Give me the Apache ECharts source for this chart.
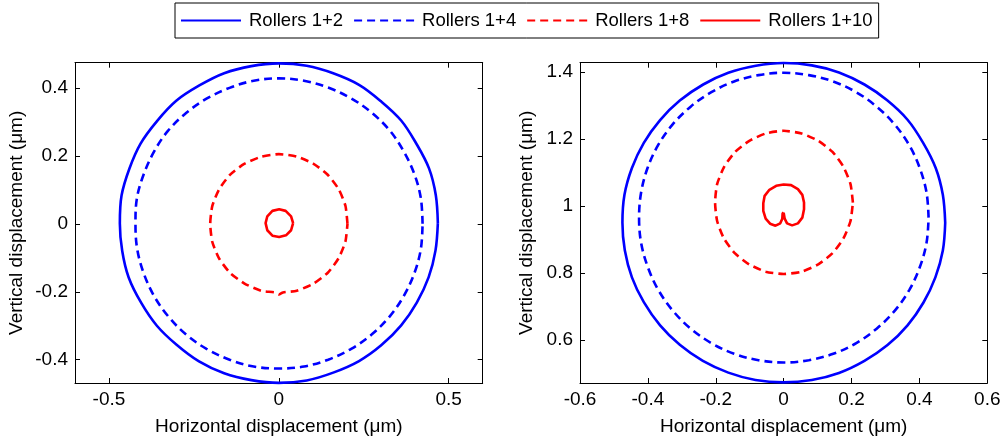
<!DOCTYPE html>
<html>
<head>
<meta charset="utf-8">
<script src="https://cdn.jsdelivr.net/npm/echarts@6/dist/echarts.min.js"></script>
<style>
html,body{margin:0;padding:0;background:#fff;}
#chart{width:1008px;height:441px;}
</style>
</head>
<body>
<div id="chart"></div>
<script>
// ---- Data (x, y in µm) ----
const seriesNames = ['Rollers 1+2', 'Rollers 1+4', 'Rollers 1+8', 'Rollers 1+10'];

// Left panel
const left12 = [[0.468,0.002],[0.462,0.084],[0.442,0.163],[0.404,0.237],[0.360,0.304],[0.300,0.361],[0.236,0.409],[0.160,0.443],[0.082,0.465],[0.000,0.472],[-0.081,0.464],[-0.161,0.443],[-0.234,0.407],[-0.302,0.362],[-0.358,0.303],[-0.407,0.236],[-0.440,0.162],[-0.463,0.083],[-0.468,0.001],[-0.461,-0.080],[-0.442,-0.158],[-0.405,-0.233],[-0.359,-0.300],[-0.301,-0.356],[-0.235,-0.405],[-0.161,-0.440],[-0.081,-0.460],[0.000,-0.468],[0.082,-0.461],[0.160,-0.438],[0.236,-0.404],[0.302,-0.357],[0.360,-0.299],[0.406,-0.232],[0.441,-0.157],[0.461,-0.079],[0.468,0.002]];
const left14 = [[0.423,0.000],[0.418,0.075],[0.399,0.146],[0.367,0.214],[0.326,0.275],[0.273,0.327],[0.213,0.369],[0.145,0.401],[0.074,0.421],[0.000,0.428],[-0.074,0.421],[-0.145,0.400],[-0.213,0.368],[-0.273,0.326],[-0.326,0.274],[-0.367,0.213],[-0.398,0.145],[-0.418,0.074],[-0.422,0.000],[-0.417,-0.074],[-0.398,-0.145],[-0.367,-0.213],[-0.325,-0.273],[-0.273,-0.326],[-0.213,-0.368],[-0.145,-0.400],[-0.074,-0.420],[0.000,-0.426],[0.074,-0.420],[0.145,-0.400],[0.213,-0.368],[0.273,-0.326],[0.326,-0.273],[0.368,-0.212],[0.399,-0.145],[0.418,-0.074],[0.423,0.000]];
const left18 = [[0.202,0.000],[0.196,0.053],[0.176,0.102],[0.143,0.145],[0.101,0.177],[0.052,0.198],[0.000,0.205],[-0.053,0.197],[-0.102,0.176],[-0.144,0.144],[-0.176,0.101],[-0.196,0.052],[-0.202,0.000],[-0.196,-0.053],[-0.176,-0.102],[-0.144,-0.144],[-0.101,-0.176],[-0.052,-0.197],[-0.012,-0.202],[0.000,-0.208],[0.012,-0.202],[0.053,-0.197],[0.102,-0.176],[0.144,-0.144],[0.176,-0.101],[0.196,-0.052],[0.202,0.000]];
const left110 = [[0.042,0.002],[0.036,0.022],[0.020,0.038],[0.001,0.043],[-0.019,0.038],[-0.034,0.022],[-0.039,0.002],[-0.034,-0.019],[-0.019,-0.035],[0.001,-0.039],[0.021,-0.034],[0.036,-0.019],[0.042,0.002]];

// Right panel
const right12 = [[0.476,0.950],[0.469,1.033],[0.448,1.113],[0.411,1.188],[0.365,1.257],[0.305,1.315],[0.238,1.362],[0.163,1.398],[0.083,1.419],[0.000,1.426],[-0.082,1.418],[-0.163,1.397],[-0.237,1.362],[-0.306,1.314],[-0.364,1.256],[-0.412,1.188],[-0.447,1.113],[-0.469,1.033],[-0.475,0.950],[-0.468,0.868],[-0.447,0.787],[-0.412,0.713],[-0.364,0.644],[-0.306,0.586],[-0.238,0.538],[-0.163,0.503],[-0.083,0.481],[0.000,0.474],[0.083,0.481],[0.163,0.502],[0.238,0.538],[0.306,0.585],[0.365,0.644],[0.412,0.712],[0.447,0.787],[0.469,0.867],[0.476,0.950]];
const right14 = [[0.427,0.965],[0.421,1.040],[0.401,1.113],[0.370,1.181],[0.327,1.243],[0.274,1.296],[0.214,1.339],[0.146,1.371],[0.074,1.390],[0.000,1.397],[-0.074,1.390],[-0.146,1.371],[-0.213,1.339],[-0.274,1.296],[-0.327,1.243],[-0.370,1.181],[-0.401,1.113],[-0.420,1.040],[-0.426,0.965],[-0.420,0.890],[-0.400,0.817],[-0.369,0.749],[-0.326,0.687],[-0.274,0.634],[-0.213,0.591],[-0.146,0.559],[-0.074,0.540],[0.000,0.533],[0.074,0.540],[0.146,0.559],[0.214,0.591],[0.274,0.634],[0.327,0.687],[0.370,0.749],[0.401,0.817],[0.421,0.890],[0.427,0.965]];
const right18 = [[0.204,1.010],[0.197,1.065],[0.176,1.117],[0.144,1.161],[0.102,1.194],[0.053,1.216],[0.000,1.224],[-0.053,1.216],[-0.101,1.194],[-0.143,1.161],[-0.175,1.117],[-0.196,1.065],[-0.202,1.010],[-0.196,0.955],[-0.176,0.903],[-0.144,0.859],[-0.102,0.826],[-0.053,0.804],[0.000,0.797],[0.053,0.804],[0.102,0.826],[0.144,0.859],[0.176,0.903],[0.197,0.955],[0.204,1.010]];
const right110 = [[0.000,0.980],[0.003,0.962],[0.010,0.948],[0.025,0.942],[0.042,0.948],[0.055,0.965],[0.060,0.990],[0.060,1.010],[0.055,1.033],[0.042,1.050],[0.022,1.062],[0.000,1.064],[-0.022,1.060],[-0.042,1.048],[-0.056,1.030],[-0.060,1.008],[-0.060,0.985],[-0.053,0.962],[-0.040,0.947],[-0.024,0.941],[-0.010,0.948],[-0.004,0.962],[-0.003,0.978],[0.000,0.980]];

// Axis ranges and tick labels
const leftXRange = [-0.6, 0.6];
const leftYRange = [-0.4685, 0.474];
const leftXTicks = [-0.5, 0, 0.5];
const leftYTicks = [-0.4, -0.2, 0, 0.2, 0.4];
const rightXRange = [-0.6, 0.6];
const rightYRange = [0.472, 1.427];
const rightXTicks = [-0.6, -0.4, -0.2, 0, 0.2, 0.4, 0.6];
const rightYTicks = [0.6, 0.8, 1, 1.2, 1.4];

const xTitle = 'Horizontal displacement (\u03bcm)';
const yTitle = 'Vertical displacement (\u03bcm)';

// ---- Chart ----
const FONT = 'Liberation Sans, Arial, sans-serif';
const BLUE = '#0000ff', RED = '#ff0000';
const DASH = [8, 5];
const FS = 19;

function mkAxis(kind, pos, range, ticks, gridIndex, showLabels, name, nameGap) {
  const a = {
    type: 'value', gridIndex: gridIndex, position: pos,
    min: range[0], max: range[1],
    axisLine: { show: true, onZero: false, lineStyle: { color: '#000', width: 1 } },
    axisTick: { show: true, inside: true, length: 5, customValues: ticks, lineStyle: { color: '#000', width: 1 } },
    axisLabel: { show: showLabels, customValues: ticks, color: '#000', fontFamily: FONT, fontSize: FS, margin: kind === 'x' ? 7 : 7 },
    splitLine: { show: false }
  };
  if (name) {
    a.name = name;
    a.nameLocation = 'middle';
    a.nameGap = nameGap;
    a.nameTextStyle = { color: '#000', fontFamily: FONT, fontSize: FS };
  }
  return a;
}

const chart = echarts.init(document.getElementById('chart'), null, { renderer: 'canvas' });

function mkSeries(name, data, color, dashed, xi, yi, smooth) {
  return {
    name: name, type: 'line', data: data,
    xAxisIndex: xi, yAxisIndex: yi,
    showSymbol: false, symbol: 'none', smooth: smooth, clip: false,
    animation: false,
    lineStyle: { color: color, width: 2.6, type: dashed ? DASH : 'solid' },
    itemStyle: { color: color },
    emphasis: { disabled: true }
  };
}

const option = {
  backgroundColor: '#fff',
  animation: false,
  legend: {
    data: seriesNames,
    left: 175, top: 3,
    padding: [8, 6, 8, 5],
    itemWidth: 60, itemHeight: 14, itemGap: 10,
    borderColor: '#000', borderWidth: 1,
    itemStyle: { opacity: 0, borderWidth: 0 },
    textStyle: { color: '#000', fontFamily: FONT, fontSize: 18.5, padding: [0, 0, 0, 3] },
    selectedMode: false
  },
  grid: [
    { left: 75, top: 62.7, width: 407.7, height: 320.6, containLabel: false },
    { left: 580, top: 62.7, width: 407.3, height: 321.3, containLabel: false }
  ],
  xAxis: [
    mkAxis('x', 'bottom', leftXRange, leftXTicks, 0, true, xTitle, 34),
    mkAxis('x', 'top', leftXRange, leftXTicks, 0, false),
    mkAxis('x', 'bottom', rightXRange, rightXTicks, 1, true, xTitle, 34),
    mkAxis('x', 'top', rightXRange, rightXTicks, 1, false)
  ],
  yAxis: [
    mkAxis('y', 'left', leftYRange, leftYTicks, 0, true, yTitle, 49),
    mkAxis('y', 'right', leftYRange, leftYTicks, 0, false),
    mkAxis('y', 'left', rightYRange, rightYTicks, 1, true, yTitle, 44),
    mkAxis('y', 'right', rightYRange, rightYTicks, 1, false)
  ],
  series: [
    mkSeries(seriesNames[0], left12, BLUE, false, 0, 0, 0.35),
    mkSeries(seriesNames[1], left14, BLUE, true, 0, 0, 0.35),
    mkSeries(seriesNames[2], left18, RED, true, 0, 0, 0.2),
    mkSeries(seriesNames[3], left110, RED, false, 0, 0, false),
    mkSeries(seriesNames[0], right12, BLUE, false, 2, 2, 0.35),
    mkSeries(seriesNames[1], right14, BLUE, true, 2, 2, 0.35),
    mkSeries(seriesNames[2], right18, RED, true, 2, 2, 0.2),
    mkSeries(seriesNames[3], right110, RED, false, 2, 2, false)
  ]
};
chart.setOption(option);
</script>
</body>
</html>
